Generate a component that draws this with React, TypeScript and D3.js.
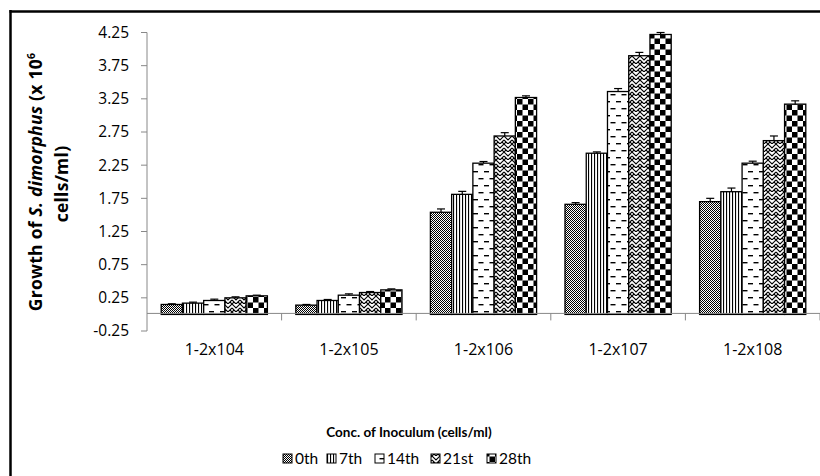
import React from "react";
import * as d3 from "d3";

const categories = ["1-2x104", "1-2x105", "1-2x106", "1-2x107", "1-2x108"];
const seriesNames = ["0th", "7th", "14th", "21st", "28th"];
const day0 = [0.15, 0.14, 1.54, 1.66, 1.7];
const day7 = [0.17, 0.21, 1.81, 2.43, 1.85];
const day14 = [0.21, 0.29, 2.28, 3.36, 2.28];
const day21 = [0.25, 0.33, 2.69, 3.9, 2.62];
const day28 = [0.28, 0.37, 3.27, 4.22, 3.17];
const err0 = [0.01, 0.01, 0.05, 0.025, 0.05];
const err7 = [0.015, 0.015, 0.045, 0.02, 0.055];
const err14 = [0.02, 0.02, 0.025, 0.045, 0.03];
const err21 = [0.015, 0.015, 0.05, 0.05, 0.07];
const err28 = [0.01, 0.015, 0.025, 0.03, 0.05];
const yTicks = [-0.25, 0.25, 0.75, 1.25, 1.75, 2.25, 2.75, 3.25, 3.75, 4.25];

const seriesValues = [day0, day7, day14, day21, day28];
const seriesErr = [err0, err7, err14, err21, err28];

const W = 820;
const H = 476;
const plotLeft = 147;
const plotRight = 820;
const yTop = 32.5;
const yBottom = 331;
const FONT = "'Open Sans', Lato, sans-serif";
const FONT2 = "Lato, 'Open Sans', sans-serif";

function Patterns() {
  return (
    <defs>
      <pattern id="p0" width={2} height={2} patternUnits="userSpaceOnUse">
        <rect width={2} height={2} fill="#fff" />
        <rect x={0} y={0} width={1} height={1} fill="#000" />
        <rect x={1} y={1} width={1} height={1} fill="#000" />
      </pattern>
      <pattern id="p1" width={3} height={3} patternUnits="userSpaceOnUse">
        <rect width={3} height={3} fill="#fff" />
        <rect x={0} y={0} width={1.1} height={3} fill="#000" />
      </pattern>
      <pattern id="p2" width={11} height={14} patternUnits="userSpaceOnUse">
        <rect width={11} height={14} fill="#fff" />
        <rect x={0} y={3} width={5} height={1.4} fill="#000" />
        <rect x={5.5} y={10} width={5} height={1.4} fill="#000" />
      </pattern>
      <pattern id="p3" width={8} height={8} patternUnits="userSpaceOnUse">
        <rect width={8} height={8} fill="#fff" />
        <path d="M0,0 L4,4 L8,0 M0,4 L4,8 L8,4 M2,6 L0,8 M6,6 L8,8" stroke="#000" strokeWidth={1.1} fill="none" />
      </pattern>
      <pattern id="p4" width={11} height={11} patternUnits="userSpaceOnUse">
        <rect width={11} height={11} fill="#fff" />
        <rect x={0} y={0} width={5.5} height={5.5} fill="#000" />
        <rect x={5.5} y={5.5} width={5.5} height={5.5} fill="#000" />
      </pattern>
    </defs>
  );
}

export default function App() {
  const x = d3.scaleBand<string>().domain(categories).range([plotLeft, plotRight]).padding(0);
  const step = x.step();
  const inner = d3
    .scaleBand<string>()
    .domain(seriesNames)
    .range([14.2, step - 14.2])
    .padding(0);
  const y = d3.scaleLinear().domain([-0.25, 4.25]).range([yBottom, yTop]);
  const y0 = y(0);
  const bw = inner.bandwidth();

  const legendX = [283, 327, 375, 431, 487];

  return (
    <svg
      width={W}
      height={H}
      style={{ position: "absolute", left: 0, top: 0, background: "#fff" }}
      fontFamily={FONT}
    >
      <Patterns />
      <rect width={W} height={H} fill="#fff" />
      {/* frame */}
      <line x1={10.5} y1={10} x2={10.5} y2={H} stroke="#000" strokeWidth={2.5} />
      <line x1={9.5} y1={11.5} x2={W} y2={11.5} stroke="#000" strokeWidth={2.5} />

      {/* y axis */}
      <line x1={plotLeft} y1={yTop} x2={plotLeft} y2={yBottom} stroke="#888" strokeWidth={1} />
      {yTicks.map((t) => (
        <g key={t}>
          <line x1={plotLeft - 6} x2={plotLeft} y1={y(t)} y2={y(t)} stroke="#888" />
          <text x={129} y={y(t)} dy="0.35em" textAnchor="end" fontSize={15.5} fill="#000">
            {t.toFixed(2)}
          </text>
        </g>
      ))}

      {/* bars */}
      {categories.map((c, ci) => (
        <g key={c}>
          {seriesNames.map((s, si) => {
            const v = seriesValues[si][ci];
            const e = seriesErr[si][ci];
            const bx = (x(c) as number) + (inner(s) as number);
            const top = y(v);
            const cx = bx + bw / 2;
            return (
              <g key={s}>
                <rect
                  x={bx}
                  y={top}
                  width={bw}
                  height={y0 - top}
                  fill={`url(#p${si})`}
                  stroke="#000"
                  strokeWidth={1.3}
                />
                <line x1={cx} x2={cx} y1={top} y2={y(v + e)} stroke="#000" strokeWidth={1.2} />
                <line x1={cx - 4} x2={cx + 4} y1={y(v + e)} y2={y(v + e)} stroke="#000" strokeWidth={1.2} />
              </g>
            );
          })}
        </g>
      ))}

      {/* x axis */}
      <line x1={plotLeft} x2={plotRight} y1={y0 - 1} y2={y0 - 1} stroke="#888" strokeWidth={1} />
      {categories.map((c) => (
        <line
          key={"t" + c}
          x1={(x(c) as number) + step}
          x2={(x(c) as number) + step}
          y1={y0 - 1}
          y2={y0 + 6}
          stroke="#888"
        />
      ))}
      {categories.map((c) => (
        <text
          key={"l" + c}
          x={(x(c) as number) + step / 2}
          y={355}
          textAnchor="middle"
          fontSize={16}
          fill="#000"
        >
          {c}
        </text>
      ))}

      {/* y title */}
      <text
        transform="translate(42,182) rotate(-90)"
        textAnchor="middle"
        fontSize={17.5}
        letterSpacing={0.25}
        fontWeight="bold"
        fill="#000"
      >
        <tspan>Growth of </tspan>
        <tspan fontStyle="italic">S. dimorphus</tspan>
        <tspan> (x  10</tspan>
        <tspan fontSize={10.5} dy={-7}>6</tspan>
      </text>
      <text
        transform="translate(68,184) rotate(-90)"
        textAnchor="middle"
        fontSize={17.5}
        letterSpacing={0.25}
        fontWeight="bold"
        fill="#000"
      >
        cells/ml)
      </text>

      {/* x title */}
      <text x={409} y={437} textAnchor="middle" fontSize={13.5} fontWeight="bold" fill="#000" fontFamily={FONT2}>
        Conc. of Inoculum (cells/ml)
      </text>

      {/* legend */}
      {seriesNames.map((s, i) => (
        <g key={"lg" + s}>
          <rect
            x={legendX[i]}
            y={454}
            width={9}
            height={9}
            fill={`url(#p${i})`}
            stroke="#000"
            strokeWidth={1}
          />
          <text x={legendX[i] + 12} y={463.5} fontSize={15.5} fill="#000" fontFamily={FONT2}>
            {s}
          </text>
        </g>
      ))}
    </svg>
  );
}
